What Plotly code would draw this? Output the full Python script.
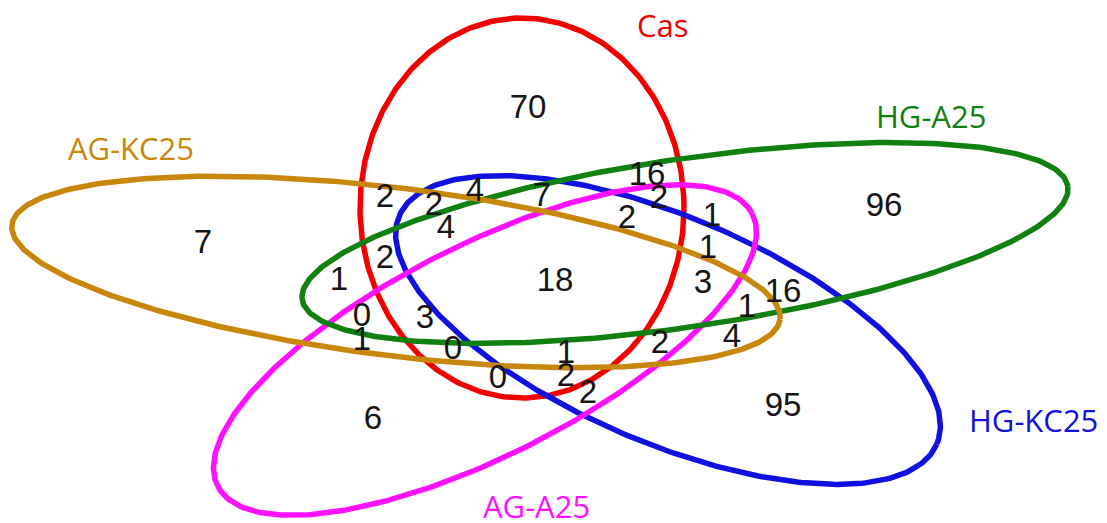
import numpy as np
import plotly.graph_objects as go

# Set names, colours and ellipse geometry (pixel space, y grows downward)
set_names = ["Cas", "HG-KC25", "AG-A25", "HG-A25", "AG-KC25"]
set_colors = ["#f20000", "#1010e0", "#ff10ff", "#108010", "#c8860a"]
centers_x = [522, 668, 485, 685, 396]
centers_y = [208, 330, 350, 243, 272]
semi_major = [162, 292, 300, 387, 387]
semi_minor = [190, 113, 105, 84, 84]
tilt_deg = [0, 23, -27, -8.4, 7]

# Set label positions
label_x = [663, 1033, 536, 931, 131]
label_y = [25, 420, 506, 116, 148]

# Region counts and where each one is written
counts = [70, 96, 7, 18, 6, 95,
          16, 2, 2, 1, 1, 3, 16, 1, 4, 2,
          2, 2, 4, 7, 4, 2, 1,
          0, 1, 3, 0, 0, 1, 2, 2]
count_x = [528, 884, 203, 555, 373, 783,
           647, 659, 627, 712, 708, 703, 783, 747, 732, 660,
           385, 434, 475, 542, 446, 385, 339,
           362, 362, 425, 453, 498, 566, 566, 588]
count_y = [110, 208, 245, 283, 421, 408,
           177, 200, 220, 218, 250, 285, 294, 309, 339, 345,
           199, 207, 193, 198, 230, 260, 282,
           318, 342, 320, 351, 380, 355, 378, 395]

W, H = 1107, 523
fig = go.Figure()

t = np.linspace(0, 2 * np.pi, 400)
for name, col, cx, cy, a, b, ang in zip(set_names, set_colors, centers_x, centers_y,
                                        semi_major, semi_minor, tilt_deg):
    th = np.deg2rad(ang)
    xs = cx + a * np.cos(t) * np.cos(th) - b * np.sin(t) * np.sin(th)
    ys = cy + a * np.cos(t) * np.sin(th) + b * np.sin(t) * np.cos(th)
    fig.add_trace(go.Scatter(x=xs, y=ys, mode="lines", name=name,
                             line=dict(color=col, width=5.5), hoverinfo="skip",
                             showlegend=False))

for name, col, lx, ly in zip(set_names, set_colors, label_x, label_y):
    fig.add_annotation(x=lx, y=ly, text=name, showarrow=False,
                       font=dict(family="Open Sans", size=31, color=col),
                       xanchor="center", yanchor="middle")

fig.add_trace(go.Scatter(x=count_x, y=count_y, mode="text",
                         text=[str(c) for c in counts],
                         textfont=dict(family="Liberation Sans", size=33, color="#151515"),
                         textposition="middle center", hoverinfo="skip",
                         showlegend=False))

fig.update_layout(width=W, height=H, margin=dict(l=0, r=0, t=0, b=0),
                  paper_bgcolor="white", plot_bgcolor="white",
                  xaxis=dict(range=[0, W], visible=False, fixedrange=True),
                  yaxis=dict(range=[H, 0], visible=False, fixedrange=True))

fig.write_html("out.html")
